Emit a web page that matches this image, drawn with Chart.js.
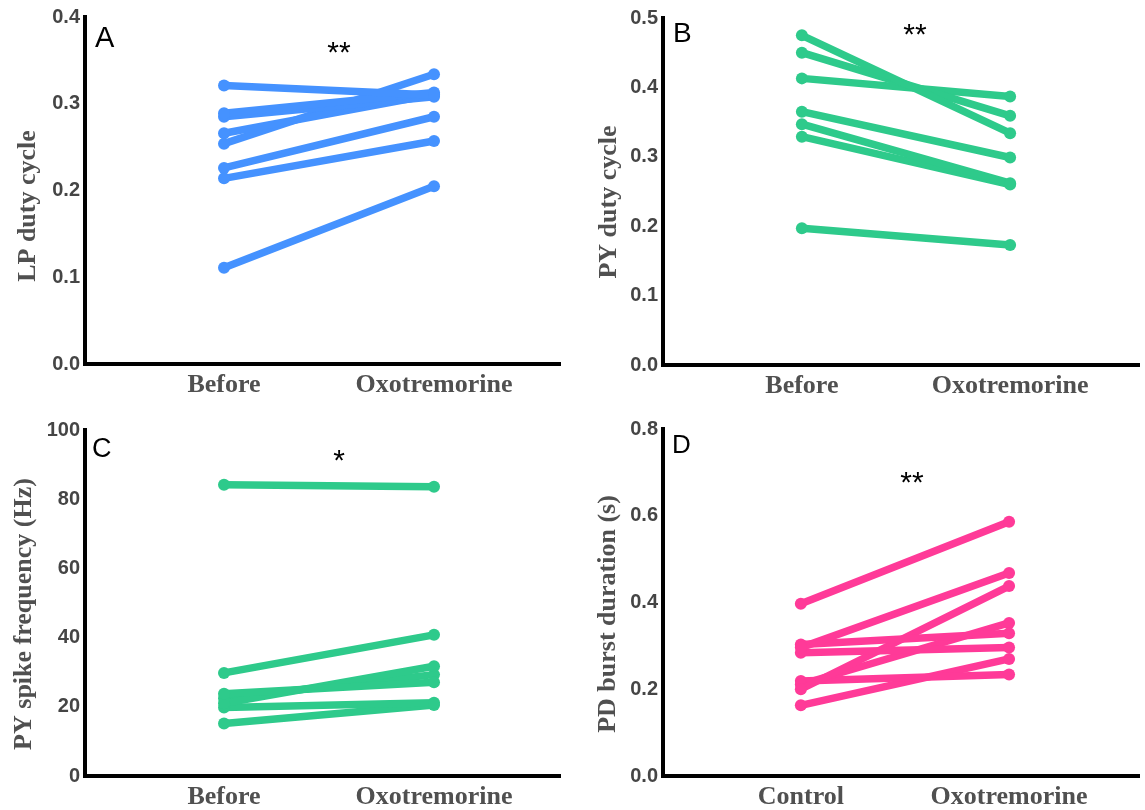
<!DOCTYPE html>
<html><head><meta charset="utf-8">
<script src="https://cdn.jsdelivr.net/npm/chart.js@4.4.1/dist/chart.umd.min.js"></script>
<style>
html,body{margin:0;padding:0;background:#fff;}
body{width:1145px;height:810px;position:relative;overflow:hidden;}
.p{position:absolute;}
canvas{display:block;}
</style></head><body>
<div class="p" style="left:0;top:0"><canvas id="cA" width="572" height="405"></canvas></div>
<div class="p" style="left:572px;top:0"><canvas id="cB" width="573" height="405"></canvas></div>
<div class="p" style="left:0;top:405px"><canvas id="cC" width="572" height="405"></canvas></div>
<div class="p" style="left:572px;top:405px"><canvas id="cD" width="573" height="405"></canvas></div>
<script>
// ---- data ----
const conditionsBefore = ['Before', 'Oxotremorine'];
const conditionsControl = ['Control', 'Oxotremorine'];

const lpDutyBefore = [0.321, 0.289, 0.285, 0.266, 0.254, 0.226, 0.214, 0.111];
const lpDutyAfter  = [0.310, 0.313, 0.308, 0.311, 0.334, 0.285, 0.257, 0.205];

const pyDutyBefore = [0.475, 0.450, 0.413, 0.365, 0.347, 0.329, 0.197];
const pyDutyAfter  = [0.334, 0.359, 0.387, 0.299, 0.262, 0.260, 0.173];

const pyFreqBefore = [84.2, 29.8, 23.8, 21.0, 22.5, 19.8, 15.2];
const pyFreqAfter  = [83.6, 40.8, 27.1, 31.7, 29.3, 21.2, 20.5];

const pdBurstBefore = [0.397, 0.296, 0.303, 0.284, 0.200, 0.211, 0.219, 0.163];
const pdBurstAfter  = [0.586, 0.468, 0.329, 0.296, 0.438, 0.353, 0.234, 0.270];

const ticksDutyA = [0, 0.1, 0.2, 0.3, 0.4];
const ticksDutyB = [0, 0.1, 0.2, 0.3, 0.4, 0.5];
const ticksFreq  = [0, 20, 40, 60, 80, 100];
const ticksBurst = [0, 0.2, 0.4, 0.6, 0.8];

// ---- drawing ----
const textPlugin = {
  id: 'panelText',
  afterDraw(chart) {
    const o = chart.options.plugins.panelText;
    const ctx = chart.ctx;
    ctx.save();
    ctx.fillStyle = '#000';
    ctx.textAlign = 'left';
    ctx.textBaseline = 'alphabetic';
    ctx.font = o.lsize + 'px "Liberation Sans", Arial, sans-serif';
    ctx.fillText(o.letter, o.lx, o.ly);
    ctx.textAlign = 'center';
    ctx.font = '30px "Liberation Sans", Arial, sans-serif';
    ctx.fillText(o.stars, o.sx, o.sy);
    ctx.translate(o.tx, o.ty);
    ctx.rotate(-Math.PI / 2);
    ctx.fillStyle = '#505050';
    ctx.font = 'bold 26px "Liberation Serif", "Times New Roman", serif';
    ctx.textBaseline = 'middle';
    ctx.fillText(o.title, 0, 0);
    ctx.restore();
  }
};

function panel(id, cfg) {
  new Chart(document.getElementById(id), {
    type: 'line',
    data: {
      datasets: cfg.before.map((b, i) => ({
        data: [{x: 0, y: b}, {x: 1, y: cfg.after[i]}],
        borderColor: cfg.color,
        backgroundColor: cfg.color,
        borderWidth: 7.5,
        pointRadius: 6,
        pointBorderWidth: 0,
        pointHoverRadius: 6,
        borderCapStyle: 'round',
        clip: false
      }))
    },
    options: {
      responsive: false,
      animation: false,
      events: [],
      layout: {padding: {left: 0, right: cfg.padR, top: cfg.top, bottom: 0}},
      plugins: {
        legend: {display: false},
        tooltip: {enabled: false},
        panelText: cfg.text
      },
      scales: {
        x: {
          type: 'linear',
          min: cfg.xmin, max: cfg.xmax,
          afterBuildTicks: s => { s.ticks = [{value: 0}, {value: 1}]; },
          afterFit: s => { s.height = cfg.xh; },
          grid: {display: false, drawTicks: false},
          border: {display: true, color: '#000', width: 4},
          ticks: {
            padding: 6, autoSkip: false, maxRotation: 0,
            color: '#505050',
            font: {family: '"Liberation Serif", "Times New Roman", serif', size: 26, weight: 'bold'},
            callback: v => cfg.cats[v]
          }
        },
        y: {
          type: 'linear',
          min: 0, max: cfg.ymax,
          afterBuildTicks: s => { s.ticks = cfg.yticks.map(v => ({value: v})); },
          afterFit: s => { s.width = cfg.yw; },
          grid: {display: false, drawTicks: false},
          border: {display: true, color: '#000', width: 4},
          ticks: {
            padding: 5,
            color: '#454545',
            font: {family: '"Liberation Sans", Arial, sans-serif', size: 20, weight: 'bold'},
            callback: v => cfg.fmt(v)
          }
        }
      }
    },
    plugins: [textPlugin]
  });
}

const f1 = v => v.toFixed(1);
const f0 = v => String(Math.round(v));

panel('cA', {
  before: lpDutyBefore, after: lpDutyAfter, color: '#4592FF', cats: conditionsBefore,
  ymax: 0.4, yticks: ticksDutyA, fmt: f1,
  yw: 85, padR: 12, top: 17, xh: 41, xmin: -0.662, xmax: 1.600,
  text: {letter: 'A', lsize: 29, lx: 95, ly: 47, stars: '**', sx: 339, sy: 62, title: 'LP duty cycle', tx: 28, ty: 206}
});
panel('cB', {
  before: pyDutyBefore, after: pyDutyAfter, color: '#2ECA8B', cats: conditionsBefore,
  ymax: 0.5, yticks: ticksDutyB, fmt: f1,
  yw: 91, padR: 0, top: 18, xh: 40, xmin: -0.667, xmax: 1.619,
  text: {letter: 'B', lsize: 28, lx: 101, ly: 42, stars: '**', sx: 343, sy: 44, title: 'PY duty cycle', tx: 37, ty: 202}
});
panel('cC', {
  before: pyFreqBefore, after: pyFreqAfter, color: '#2ECA8B', cats: conditionsBefore,
  ymax: 100, yticks: ticksFreq, fmt: f0,
  yw: 85, padR: 12, top: 25, xh: 34, xmin: -0.662, xmax: 1.600,
  text: {letter: 'C', lsize: 27, lx: 92, ly: 52, stars: '*', sx: 339, sy: 65, title: 'PY spike frequency (Hz)', tx: 24, ty: 209}
});
panel('cD', {
  before: pdBurstBefore, after: pdBurstAfter, color: '#FF3A98', cats: conditionsControl,
  ymax: 0.8, yticks: ticksBurst, fmt: f1,
  yw: 91, padR: 0, top: 24, xh: 34, xmin: -0.662, xmax: 1.624,
  text: {letter: 'D', lsize: 26, lx: 100, ly: 48, stars: '**', sx: 340, sy: 87, title: 'PD burst duration (s)', tx: 36, ty: 209}
});
</script>
</body></html>
